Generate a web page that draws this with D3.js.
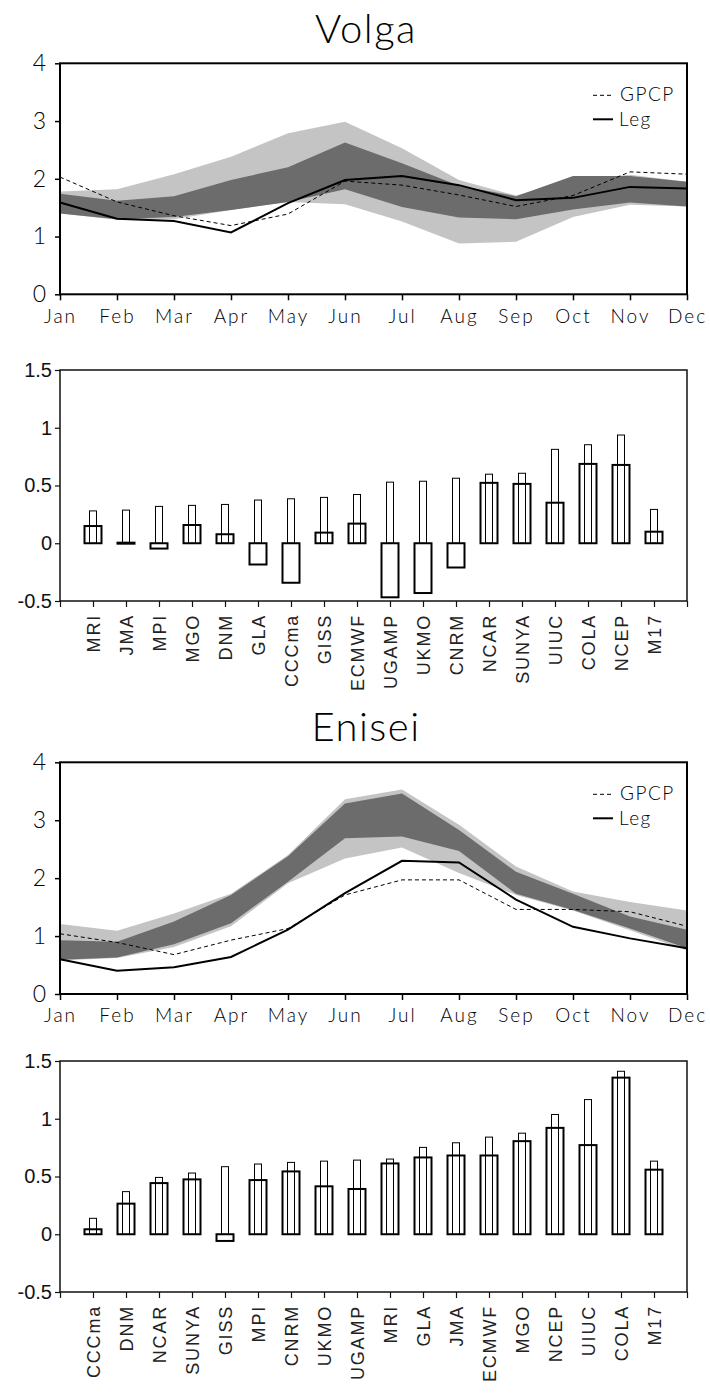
<!DOCTYPE html>
<html>
<head>
<meta charset="utf-8">
<script src="https://cdn.jsdelivr.net/npm/d3@7"></script>
<style>
  body { margin: 0; background: #fff; }
  svg { display: block; }
</style>
</head>
<body>
<svg id="chart" width="710" height="1395"></svg>
<script>
// ---------- monthly precipitation (mm/day) ----------
const months = ["Jan","Feb","Mar","Apr","May","Jun","Jul","Aug","Sep","Oct","Nov","Dec"];
const seasonTicks = [0, 1, 2, 3, 4];

// Volga
const volgaGpcp    = [2.03, 1.60, 1.36, 1.19, 1.39, 1.96, 1.89, 1.72, 1.52, 1.71, 2.12, 2.08];
const volgaLeg     = [1.59, 1.31, 1.27, 1.07, 1.58, 1.98, 2.05, 1.89, 1.63, 1.67, 1.86, 1.83];
const volgaRangeLo = [1.40, 1.29, 1.30, 1.46, 1.60, 1.56, 1.26, 0.88, 0.91, 1.34, 1.55, 1.52];
const volgaRangeHi = [1.78, 1.82, 2.08, 2.38, 2.79, 2.99, 2.53, 1.98, 1.71, 1.98, 2.07, 1.95];
const volgaCoreLo  = [1.40, 1.30, 1.34, 1.46, 1.60, 1.82, 1.51, 1.33, 1.30, 1.47, 1.59, 1.52];
const volgaCoreHi  = [1.74, 1.62, 1.70, 1.98, 2.20, 2.63, 2.27, 1.88, 1.70, 2.05, 2.05, 1.95];

// Enisei
const eniseiGpcp    = [1.04, 0.89, 0.68, 0.93, 1.13, 1.71, 1.97, 1.97, 1.46, 1.46, 1.42, 1.17];
const eniseiLeg     = [0.60, 0.40, 0.46, 0.64, 1.11, 1.74, 2.30, 2.27, 1.63, 1.16, 0.96, 0.79];
const eniseiRangeLo = [0.58, 0.62, 0.81, 1.17, 1.91, 2.34, 2.53, 2.09, 1.71, 1.44, 1.10, 0.75];
const eniseiRangeHi = [1.21, 1.09, 1.39, 1.73, 2.40, 3.36, 3.53, 2.92, 2.20, 1.77, 1.59, 1.44];
const eniseiCoreLo  = [0.59, 0.63, 0.86, 1.22, 1.94, 2.69, 2.72, 2.47, 1.73, 1.45, 1.13, 0.79];
const eniseiCoreHi  = [0.93, 0.90, 1.25, 1.71, 2.38, 3.29, 3.46, 2.83, 2.11, 1.73, 1.34, 1.11];

// ---------- model scores ----------
const scoreTicks = [-0.5, 0, 0.5, 1, 1.5];
const scoreTickLabels = ["-0.5", "0", "0.5", "1", "1.5"];

const volgaModels = ["MRI","JMA","MPI","MGO","DNM","GLA","CCCma","GISS","ECMWF","UGAMP","UKMO","CNRM","NCAR","SUNYA","UIUC","COLA","NCEP","M17"];
const volgaBias   = [0.149, 0.005, -0.046, 0.158, 0.078, -0.184, -0.342, 0.092, 0.170, -0.468, -0.431, -0.210, 0.523, 0.514, 0.351, 0.687, 0.678, 0.100];
const volgaError  = [0.280, 0.287, 0.319, 0.328, 0.336, 0.374, 0.385, 0.397, 0.422, 0.529, 0.537, 0.563, 0.598, 0.606, 0.813, 0.853, 0.937, 0.293];

const eniseiModels = ["CCCma","DNM","NCAR","SUNYA","GISS","MPI","CNRM","UKMO","UGAMP","MRI","GLA","JMA","ECMWF","MGO","NCEP","UIUC","COLA","M17"];
const eniseiBias   = [0.043, 0.265, 0.443, 0.475, -0.058, 0.469, 0.544, 0.415, 0.392, 0.613, 0.665, 0.682, 0.682, 0.806, 0.921, 0.772, 1.356, 0.559];
const eniseiError  = [0.138, 0.369, 0.492, 0.530, 0.585, 0.608, 0.622, 0.633, 0.642, 0.651, 0.752, 0.792, 0.841, 0.875, 1.037, 1.166, 1.411, 0.633];

const svg = d3.select("#chart");
const LEFT = 60, RIGHT = 687;
const thinFont = "Lato,'DejaVu Sans',sans-serif";
const plainFont = "'Liberation Sans',Arial,sans-serif";

function seasonalPanel(cfg) {
  const g = svg.append("g");
  const x = d3.scaleLinear().domain([0, 11]).range([LEFT, RIGHT]);
  const y = d3.scaleLinear().domain([0, 4]).range([cfg.bottom, cfg.top]);

  g.append("text")
    .attr("x", 366).attr("y", cfg.titleY)
    .attr("text-anchor", "middle")
    .attr("font-family", thinFont).attr("font-weight", 300)
    .attr("font-size", 40).attr("letter-spacing", 1.5)
    .text(cfg.title);

  const band = (lo, hi) => d3.area()
    .x((d, i) => x(i)).y0((d, i) => y(lo[i])).y1((d, i) => y(hi[i]))(months);

  g.append("path").attr("d", band(cfg.rangeLo, cfg.rangeHi)).attr("fill", "#c4c4c4");
  g.append("path").attr("d", band(cfg.coreLo, cfg.coreHi)).attr("fill", "#6c6c6c");

  const line = d3.line().x((d, i) => x(i)).y(d => y(d));
  g.append("path").attr("d", line(cfg.gpcp))
    .attr("fill", "none").attr("stroke", "#000").attr("stroke-width", 1)
    .attr("stroke-dasharray", "4,3");
  g.append("path").attr("d", line(cfg.leg))
    .attr("fill", "none").attr("stroke", "#000").attr("stroke-width", 2);

  // frame
  g.append("rect")
    .attr("x", LEFT).attr("y", cfg.top)
    .attr("width", RIGHT - LEFT).attr("height", cfg.bottom - cfg.top)
    .attr("fill", "none").attr("stroke", "#000").attr("stroke-width", 2);

  const ax = g.append("g").attr("transform", `translate(0,${cfg.bottom})`)
    .call(d3.axisBottom(x).tickValues(d3.range(12)).tickFormat(i => months[i])
      .tickSize(6).tickSizeOuter(0).tickPadding(9));
  const ay = g.append("g").attr("transform", `translate(${LEFT},0)`)
    .call(d3.axisLeft(y).tickValues(seasonTicks).tickFormat(d3.format("d"))
      .tickSize(5).tickSizeOuter(0).tickPadding(7));
  [ax, ay].forEach(a => {
    a.select(".domain").remove();
    a.selectAll(".tick line").attr("stroke", "#000").attr("stroke-width", 1.5);
    a.selectAll(".tick text")
      .attr("font-family", thinFont).attr("font-weight", 300)
      .attr("fill", "#000").attr("letter-spacing", 2);
  });
  ax.selectAll(".tick text").attr("font-size", 19);
  ay.selectAll(".tick text").attr("font-size", 23);

  // legend
  const lg = g.append("g").attr("font-family", thinFont).attr("font-weight", 300)
    .attr("font-size", 19).attr("letter-spacing", 1.5);
  lg.append("line").attr("x1", 593).attr("x2", 613)
    .attr("y1", cfg.top + 32).attr("y2", cfg.top + 32)
    .attr("stroke", "#000").attr("stroke-width", 1).attr("stroke-dasharray", "4,3");
  lg.append("text").attr("x", 620).attr("y", cfg.top + 38).text("GPCP");
  lg.append("line").attr("x1", 593).attr("x2", 613)
    .attr("y1", cfg.top + 56).attr("y2", cfg.top + 56)
    .attr("stroke", "#000").attr("stroke-width", 2);
  lg.append("text").attr("x", 619).attr("y", cfg.top + 63).text("Leg");
}

function scorePanel(cfg) {
  const g = svg.append("g");
  const x = d3.scaleLinear().domain([0, cfg.models.length + 1]).range([LEFT, RIGHT]);
  const y = d3.scaleLinear().domain([-0.5, 1.5]).range([cfg.bottom, cfg.top]);
  const wide = 17, narrow = 7;

  g.append("rect")
    .attr("x", LEFT).attr("y", cfg.top)
    .attr("width", RIGHT - LEFT).attr("height", cfg.bottom - cfg.top)
    .attr("fill", "none").attr("stroke", "#111").attr("stroke-width", 1.5);

  g.selectAll("rect.bias").data(cfg.bias).join("rect").attr("class", "bias")
    .attr("x", (d, i) => x(i + 1) - wide / 2)
    .attr("y", d => y(Math.max(0, d)))
    .attr("width", wide)
    .attr("height", d => Math.max(1, Math.abs(y(d) - y(0))))
    .attr("fill", "#fff").attr("stroke", "#000").attr("stroke-width", 2);

  g.selectAll("rect.err").data(cfg.error).join("rect").attr("class", "err")
    .attr("x", (d, i) => x(i + 1) - narrow / 2)
    .attr("y", d => y(d))
    .attr("width", narrow)
    .attr("height", d => y(0) - y(d))
    .attr("fill", "none").attr("stroke", "#000").attr("stroke-width", 1);

  const ax = g.append("g").attr("transform", `translate(0,${cfg.bottom})`)
    .call(d3.axisBottom(x).tickValues(d3.range(cfg.models.length + 2))
      .tickFormat(i => cfg.models[i - 1] || "").tickSize(6).tickSizeOuter(0));
  ax.select(".domain").remove();
  ax.selectAll(".tick line").attr("stroke", "#111").attr("stroke-width", 1.2);
  ax.selectAll(".tick text")
    .attr("font-family", plainFont)
    .attr("font-size", 18).attr("letter-spacing", 1.8).attr("fill", "#222")
    .attr("transform", "rotate(-90)")
    .attr("text-anchor", "end")
    .attr("x", -13).attr("y", 0).attr("dy", "0.36em");

  const ay = g.append("g").attr("transform", `translate(${LEFT},0)`)
    .call(d3.axisLeft(y).tickValues(scoreTicks)
      .tickFormat((d, i) => scoreTickLabels[i]).tickSize(5).tickSizeOuter(0).tickPadding(3));
  ay.select(".domain").remove();
  ay.selectAll(".tick line").attr("stroke", "#111").attr("stroke-width", 1.2);
  ay.selectAll(".tick text")
    .attr("font-family", plainFont).attr("font-size", 20).attr("fill", "#111");
}

seasonalPanel({
  title: "Volga", titleY: 43, top: 63.3, bottom: 294.3,
  gpcp: volgaGpcp, leg: volgaLeg,
  rangeLo: volgaRangeLo, rangeHi: volgaRangeHi,
  coreLo: volgaCoreLo, coreHi: volgaCoreHi
});
scorePanel({ top: 370, bottom: 601, models: volgaModels, bias: volgaBias, error: volgaError });

seasonalPanel({
  title: "Enisei", titleY: 741, top: 762.3, bottom: 994,
  gpcp: eniseiGpcp, leg: eniseiLeg,
  rangeLo: eniseiRangeLo, rangeHi: eniseiRangeHi,
  coreLo: eniseiCoreLo, coreHi: eniseiCoreHi
});
scorePanel({ top: 1061, bottom: 1292, models: eniseiModels, bias: eniseiBias, error: eniseiError });
</script>
</body>
</html>
